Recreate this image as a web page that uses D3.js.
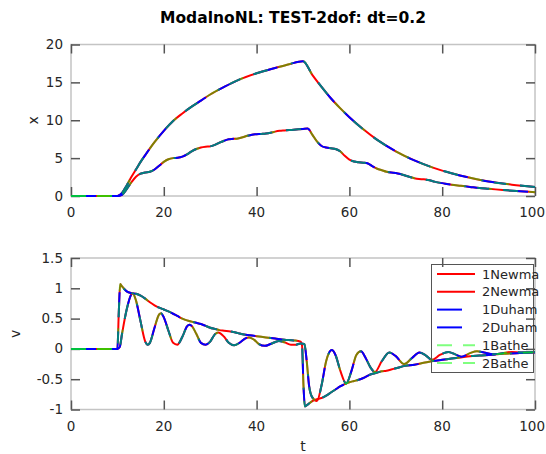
<!DOCTYPE html>
<html><head><meta charset="utf-8">
<script src="https://cdn.jsdelivr.net/npm/d3@7"></script>
<style>body{margin:0;background:#fff}svg{display:block}text{font-family:"DejaVu Sans",sans-serif}</style>
</head><body>
<script>
const title = "ModalnoNL: TEST-2dof: dt=0.2";
const seriesNames = ["1Newma","2Newma","1Duham","2Duham","1Bathe","2Bathe"];
const xTicks = [0,20,40,60,80,100];
const xTopTicks = [0,5,10,15,20];
const vTicks = [-1,-0.5,0,0.5,1,1.5];

// displacement dof 1
const x1Data = [[0,0],[10,0],[11,0.4],[12,1.4],[13,2.5],[14,3.5],[15,4.5],[16,5.4],[18,7.1],[20,8.6],[22,9.9],[24,10.9],[26,11.8],[28,12.6],[30,13.4],[33,14.4],[36,15.3],[40,16.2],[44,16.9],[47,17.4],[50,17.8],[52,16.0],[54,14.4],[56,12.9],[58,11.6],[60,10.4],[63,8.8],[66,7.4],[70,5.9],[74,4.7],[78,3.75],[82,3.0],[86,2.4],[90,1.9],[95,1.5],[100,1.2]];
// displacement dof 2
const x2Data = [[0,0],[10,0],[11,0.15],[12,0.9],[13,1.8],[14,2.55],[15,2.95],[16,3.1],[17,3.2],[18,3.5],[19,4.0],[20,4.5],[21,4.85],[22,5.0],[23,5.05],[24,5.2],[25,5.5],[26,5.9],[27,6.2],[28,6.4],[29,6.5],[30,6.55],[31,6.75],[32,7.05],[33,7.3],[34,7.5],[35,7.55],[36,7.6],[37,7.75],[38,7.95],[39,8.1],[40,8.15],[41,8.2],[42,8.25],[43,8.35],[44,8.5],[45,8.6],[46,8.65],[47,8.7],[48,8.75],[50,8.85],[51,8.9],[52,8.1],[53,7.2],[54,6.6],[55,6.4],[56,6.3],[57,6.2],[58,5.9],[59,5.3],[60,4.8],[61,4.55],[62,4.45],[63,4.4],[64,4.3],[65,3.9],[66,3.6],[67,3.4],[68,3.2],[69,3.1],[70,3.05],[71,2.9],[72,2.7],[73,2.5],[74,2.35],[75,2.25],[76,2.2],[77,2.1],[78,1.95],[79,1.8],[80,1.7],[82,1.5],[84,1.35],[86,1.2],[88,1.05],[90,0.95],[93,0.8],[96,0.65],[100,0.5]];
// velocity dof 1
const v1Data = [[0,0],[10,0],[10.3,0.6],[10.6,1.07],[11,1.03],[12,0.95],[13,0.92],[14,0.91],[15,0.88],[16,0.83],[17,0.77],[18,0.72],[19,0.68],[20,0.65],[21,0.62],[22,0.58],[23,0.54],[24,0.5],[25,0.47],[26,0.45],[27,0.43],[28,0.41],[29,0.38],[30,0.35],[31,0.33],[32,0.31],[33,0.3],[34,0.29],[35,0.28],[36,0.26],[37,0.24],[38,0.23],[39,0.22],[40,0.21],[42,0.19],[44,0.17],[46,0.15],[48,0.14],[49.5,0.12],[49.8,0.05],[50.1,-0.6],[50.4,-0.95],[51,-0.92],[52,-0.86],[53,-0.83],[54,-0.81],[55,-0.77],[56,-0.72],[57,-0.67],[58,-0.62],[59,-0.58],[60,-0.55],[61,-0.53],[62,-0.51],[63,-0.48],[64,-0.44],[65,-0.41],[66,-0.39],[67,-0.37],[68,-0.36],[69,-0.34],[70,-0.32],[72,-0.28],[74,-0.26],[76,-0.23],[78,-0.2],[80,-0.18],[82,-0.16],[84,-0.14],[86,-0.12],[88,-0.11],[90,-0.1],[93,-0.08],[96,-0.07],[100,-0.05]];
// velocity dof 2
const v2Data = [[0,0],[10,0],[10.5,0.03],[11,0.25],[12,0.65],[13,0.9],[13.3,0.92],[14,0.8],[15,0.45],[16,0.12],[16.5,0.07],[17,0.1],[18,0.35],[19,0.57],[19.4,0.59],[20,0.52],[21,0.3],[22,0.1],[22.9,0.07],[24,0.2],[25,0.37],[25.5,0.4],[26,0.38],[27,0.25],[28,0.1],[29,0.07],[30,0.12],[31,0.24],[31.7,0.27],[33,0.2],[34,0.1],[35.2,0.06],[36.5,0.11],[37.5,0.17],[38.4,0.19],[39.5,0.15],[40.5,0.08],[41.8,0.05],[43,0.08],[44.8,0.13],[46,0.11],[47.4,0.07],[48.5,0.07],[49.5,0.09],[50.3,0.08],[50.8,-0.2],[51.3,-0.6],[52,-0.8],[53,-0.86],[54,-0.6],[55,-0.2],[56.2,-0.02],[57,-0.1],[58,-0.35],[59.3,-0.57],[60.5,-0.35],[61.5,-0.1],[62.5,-0.04],[63.5,-0.15],[64.5,-0.3],[65.5,-0.38],[67,-0.2],[68.6,-0.06],[70,-0.12],[71.8,-0.25],[73.5,-0.15],[75.1,-0.06],[76.5,-0.11],[77.8,-0.18],[79.5,-0.1],[81.3,-0.05],[82.8,-0.09],[84.2,-0.13],[86,-0.07],[87.5,-0.04],[89,-0.06],[91,-0.09],[93,-0.07],[95,-0.05],[97,-0.06],[100,-0.06]];

const W = 546, H = 454;
const svg = d3.select("body").append("svg").attr("width", W).attr("height", H);

const styles = [
  {color:"#ff0000", dash:null, op:1},
  {color:"#ff0000", dash:null, op:1},
  {color:"#0000ff", dash:"25,14", op:1},
  {color:"#0000ff", dash:"25,14", op:1},
  {color:"#00ff00", dash:"15,11", op:0.5},
  {color:"#00ff00", dash:"15,11", op:0.5}
];

svg.append("text").attr("x", 293).attr("y", 23).attr("text-anchor","middle")
  .attr("font-size", 15.5).attr("font-weight","bold").attr("fill","#000").text(title);

function panel(yTop, yBot, yDomain, yTickVals, data1, data2, ylabel, ylabX, tickFmt) {
  const x = d3.scaleLinear().domain([0,100]).range([71,535]);
  const y = d3.scaleLinear().domain(yDomain).range([yBot, yTop]);
  const g = svg.append("g");
  g.append("rect").attr("x",71).attr("y",yTop).attr("width",464).attr("height",yBot-yTop)
    .attr("fill","none").attr("stroke","#c4c4c4").attr("stroke-width",1.5);
  const tl = 9;
  const axL = d3.axisRight(y).tickValues(yTickVals).tickSize(tl).tickFormat("");
  const axR = d3.axisLeft(y).tickValues(yTickVals).tickSize(tl).tickFormat("");
  const axB = d3.axisTop(x).tickValues(xTicks).tickSize(tl).tickFormat("");
  const axT = d3.axisBottom(x).tickValues(xTicks).tickSize(tl).tickFormat("");
  [[axL,`translate(71,0)`],[axR,`translate(535,0)`],[axB,`translate(0,${yBot})`],[axT,`translate(0,${yTop})`]].forEach(([a,tr])=>{
    const ag = g.append("g").attr("transform",tr).call(a);
    ag.select(".domain").remove();
    ag.selectAll("line").attr("stroke","#555").attr("stroke-width",1.5);
  });
  g.selectAll(".yl").data(yTickVals).enter().append("text")
    .attr("x",63).attr("y",d=>y(d)+4.5).attr("text-anchor","end")
    .attr("font-size",13.5).attr("fill","#262626").text(tickFmt);
  const last = xTicks[xTicks.length-1];
  g.selectAll(".xl").data(xTicks).enter().append("text")
    .attr("x",d=> d===last ? 545 : x(d)).attr("y",yBot+21)
    .attr("text-anchor",d=> d===last ? "end" : "middle")
    .attr("font-size",13.5).attr("fill","#262626").text(d=>d);
  g.append("text").attr("transform",`translate(${ylabX},${(yTop+yBot)/2}) rotate(-90)`)
    .attr("text-anchor","middle").attr("font-size",14).attr("fill","#262626").text(ylabel);
  const line = d3.line().x(d=>x(d[0])).y(d=>y(d[1])).curve(d3.curveMonotoneX);
  const sets = [data1,data2,data1,data2,data1,data2];
  sets.forEach((d,i)=>{
    const s = styles[i];
    g.append("path").attr("d", line(d)).attr("fill","none").attr("stroke",s.color)
      .attr("stroke-opacity",s.op).attr("stroke-width",2).attr("stroke-dasharray",s.dash);
  });
  return {x,y};
}

panel(44.5, 196, [0,20], xTopTicks, x1Data, x2Data, "x", 38, d=>d);
panel(258, 409.5, [-1,1.5], vTicks, v1Data, v2Data, "v", 20, d=>d);

svg.append("text").attr("x",303).attr("y",451).attr("text-anchor","middle")
  .attr("font-size",14).attr("fill","#262626").text("t");

const lg = svg.append("g");
lg.append("rect").attr("x",431.5).attr("y",264.5).attr("width",102).attr("height",108)
  .attr("fill","none").attr("stroke","#555").attr("stroke-width",1);
const lgY = d3.scaleLinear().domain([0,5]).range([274,363]);
seriesNames.forEach((n,i)=>{
  const s = styles[i];
  lg.append("line").attr("x1",437).attr("x2",475).attr("y1",lgY(i)).attr("y2",lgY(i))
    .attr("stroke",s.color).attr("stroke-opacity",s.op).attr("stroke-width",2).attr("stroke-dasharray",s.dash);
  lg.append("text").attr("x",482).attr("y",lgY(i)+4.5).attr("font-size",13).attr("fill","#262626").text(n);
});
</script>
</body></html>
